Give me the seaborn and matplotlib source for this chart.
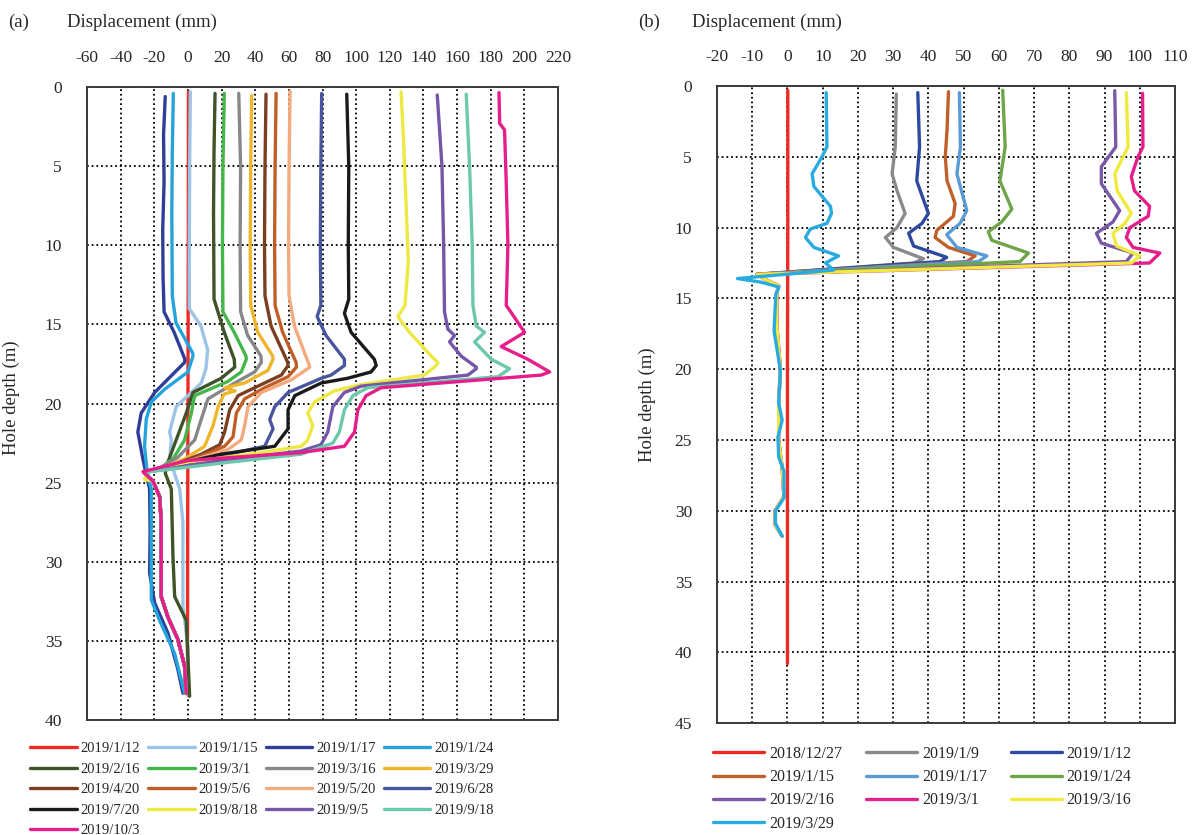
import matplotlib
matplotlib.use("Agg")
import matplotlib.pyplot as plt
import seaborn as sns

# ---------------- panel (a) data: displacement (mm) vs hole depth (m) ----------------
a_labels = ["2019/1/12", "2019/1/15", "2019/1/17", "2019/1/24", "2019/2/16", "2019/3/1",
            "2019/3/16", "2019/3/29", "2019/4/20", "2019/5/6", "2019/5/20", "2019/6/28",
            "2019/7/20", "2019/8/18", "2019/9/5", "2019/9/18", "2019/10/3"]
a_colors = ["#ee2a24", "#9dc3e6", "#2e3d98", "#24a4dd", "#3e5327", "#45b649",
            "#878787", "#efb52b", "#7b3f20", "#c15e26", "#f2aa7e", "#4a559f",
            "#1a1a1a", "#eee843", "#7556a8", "#6cc8ad", "#e61e8c"]

# shared lower branch below the shear zone (most series overlap here)
a_tail_d = [24.9, 25.9, 27.5, 32.2, 33.5, 34.9, 36.6, 38.3]
a_tail_x = [-20.8, -16.8, -15.9, -15.9, -11.9, -6.0, -2.0, -1.0]

a_d_0112 = [0.3, 10, 20, 30, 38.4]
a_x_0112 = [0.3, 0.2, 0.0, -0.2, -0.3]
a_d_0115 = [0.3, 5, 10, 14.0, 15.1, 16.6, 17.8, 18.7, 20.2, 21.8, 22.3, 23.5, 25.4, 27.5, 32.8, 35.4, 38.4]
a_x_0115 = [1.4, 1.0, 0.8, 0.8, 7.7, 11.7, 10.7, 7.9, -7.0, -10.9, -9.9, -10.9, -4.9, -3.0, -3.0, 0.0, 0.0]
a_d_0117 = [0.6, 3, 6, 9, 12, 14.2, 15.5, 17.2, 17.4, 19.3, 20.6, 21.8, 23.5, 24.4, 25.4, 28, 30.7, 32.6, 34.5, 36.8, 38.3]
a_x_0117 = [-13.5, -14.5, -14.2, -15.0, -14.8, -14.2, -8.2, -1.8, -2.0, -19.8, -27.8, -29.8, -26.8, -25.0, -22.8, -22.5, -22.8, -19.8, -11.9, -6.0, -3.0]
a_d_0124 = [0.4, 4, 8, 13.2, 14.9, 16.8, 17.0, 18.0, 19.1, 19.9, 21.0, 22.7, 24.4, 25.4, 32.4, 33.7, 35.8, 38.3]
a_x_0124 = [-8.7, -9.3, -9.6, -9.3, -7.1, 2.8, 3.0, 0.0, -13.9, -21.8, -24.8, -25.8, -24.2, -21.8, -21.8, -16.9, -7.9, -2.0]
a_d_0216 = [0.4, 4, 8, 13.4, 15.5, 17.2, 17.7, 18.4, 19.3, 20.6, 22.3, 23.7, 24.4, 25.4, 29.7, 32.2, 33.7, 38.5]
a_x_0216 = [16.1, 15.5, 15.2, 15.5, 21.6, 27.5, 27.8, 19.8, 3.0, -1.0, -7.0, -11.9, -13.5, -9.9, -8.9, -7.9, -1.0, 1.0]
a_d_0301 = [0.4, 5, 10, 14.2, 15.5, 17.0, 17.2, 18.0, 18.6, 19.5, 20.6, 22.3, 23.5, 24.1, 24.4]
a_x_0301 = [21.6, 20.8, 20.5, 20.8, 27.5, 34.5, 34.7, 31.7, 23.8, 4.0, 2.0, -2.0, -8.9, -16.8, -25.8]
a_d_0316 = [0.4, 5, 10, 14.2, 15.7, 17.0, 17.4, 18.0, 18.7, 19.7, 21.0, 22.3, 23.4, 24.1, 24.35]
a_x_0316 = [30.2, 31.3, 31.0, 31.3, 35.5, 43.4, 43.6, 39.7, 27.8, 11.9, 7.9, 4.0, -6.0, -16.8, -26.0]
a_d_0329 = [0.55, 5, 10, 13.8, 15.5, 17.0, 17.2, 17.9, 18.7, 19.0, 19.2, 19.4, 20.2, 21.4, 22.7, 23.5, 24.1, 24.35]
a_x_0329 = [37.9, 37.3, 37.0, 37.3, 41.5, 50.4, 50.6, 47.6, 33.7, 22.0, 28.0, 21.5, 17.9, 14.9, 9.9, -2.0, -15.9, -26.0]
a_d_0420 = [0.45, 5, 10, 13.2, 15.1, 17.4, 17.6, 18.2, 18.9, 19.5, 20.4, 21.8, 22.6, 23.2, 24.1, 24.35]
a_x_0420 = [46.4, 45.8, 45.5, 45.8, 49.4, 59.3, 59.5, 55.5, 41.6, 29.8, 24.8, 21.8, 18.9, 7.9, -13.9, -26.0]
a_d_0506 = [0.4, 5, 10, 13.8, 15.5, 17.4, 17.7, 18.3, 19.0, 19.7, 20.6, 22.1, 22.7, 23.4, 24.1, 24.35]
a_x_0506 = [52.4, 51.8, 51.5, 51.8, 56.3, 64.3, 64.5, 59.5, 45.6, 33.7, 28.8, 26.8, 21.8, 6.0, -13.9, -26.0]
a_d_0520 = [0.25, 5, 10, 13.2, 15.1, 17.6, 17.7, 18.5, 19.3, 20.2, 21.4, 22.3, 22.9, 23.6, 24.35]
a_x_0520 = [60.7, 60.1, 59.8, 60.1, 63.3, 72.2, 72.4, 61.5, 43.6, 35.7, 33.7, 31.7, 23.8, 2.0, -26.0]
a_d_0628 = [0.4, 5, 10, 13.8, 14.5, 15.7, 17.2, 17.6, 18.2, 18.4, 19.3, 20.2, 21.0, 21.6, 22.7, 23.3, 24.0, 24.35]
a_x_0628 = [79.5, 79.0, 78.7, 79.0, 76.8, 82.1, 93.0, 93.0, 85.1, 79.3, 59.5, 51.6, 48.6, 50.6, 45.6, 19.8, -9.9, -26.0]
a_d_0720 = [0.45, 5, 10, 13.4, 14.3, 15.5, 17.2, 17.6, 18.0, 18.4, 18.7, 19.5, 20.4, 21.6, 22.7, 23.2, 23.9, 24.35]
a_x_0720 = [94.4, 95.6, 95.3, 95.6, 93.0, 97.0, 110.8, 111.9, 108.9, 95.0, 79.3, 63.5, 59.5, 59.5, 51.6, 19.8, -9.9, -26.0]
a_d_0818 = [0.3, 3, 7, 11, 13.8, 14.5, 15.5, 17.0, 17.4, 17.6, 18.2, 18.8, 19.2, 19.9, 20.6, 21.4, 22.3, 22.7, 23.1, 23.7, 24.3, 24.8]
a_x_0818 = [126.7, 128.0, 129.5, 131.0, 129.0, 124.8, 131.7, 144.6, 148.6, 147.6, 140.6, 103.0, 87.0, 75.2, 71.2, 74.2, 71.2, 67.4, 43.6, 0.0, -23.8, -25.8]
a_d_0905 = [0.5, 5, 10, 14.2, 15.3, 15.7, 16.1, 17.0, 17.7, 17.8, 18.2, 18.9, 19.3, 20.2, 21.8, 22.6, 23.0, 23.6, 24.35]
a_x_0905 = [148.2, 151.0, 152.0, 152.5, 154.5, 158.5, 155.5, 162.4, 171.4, 171.4, 166.4, 103.0, 93.0, 86.1, 83.1, 79.1, 67.2, 20.0, -26.0]
a_d_0918 = [0.45, 5, 10, 13.8, 15.1, 15.5, 16.1, 17.2, 17.8, 18.3, 19.0, 19.5, 20.4, 21.8, 22.5, 23.2, 23.7, 24.35]
a_x_0918 = [165.4, 167.4, 169.0, 169.4, 171.4, 176.3, 170.4, 180.3, 191.2, 184.3, 107.0, 98.0, 93.0, 90.0, 86.1, 67.2, 25.0, -26.0]
a_d_1003 = [0.35, 2.3, 2.7, 6, 10, 13.8, 14.1, 15.5, 16.4, 17.2, 18.0, 18.2, 19.0, 19.5, 20.4, 21.8, 22.7, 23.1, 23.6, 24.3]
a_x_1003 = [184.9, 185.3, 188.2, 189.2, 190.2, 189.2, 191.2, 200.1, 186.2, 202.0, 215.0, 210.0, 114.8, 105.9, 101.0, 99.0, 93.0, 67.2, 0.0, -26.8]

# ---------------- panel (b) data ----------------
b_labels = ["2018/12/27", "2019/1/9", "2019/1/12", "2019/1/15", "2019/1/17",
            "2019/1/24", "2019/2/16", "2019/3/1", "2019/3/16", "2019/3/29"]
b_colors = ["#ee2a24", "#8a8a8a", "#2d4aa0", "#c0612b", "#5b9bd5",
            "#6ea647", "#7a58a8", "#e61e8c", "#efea3d", "#29abe2"]

b_tail_d = [13.3, 13.7, 14.1, 14.6, 17, 20, 22.5, 25, 27, 29, 30, 31, 31.8]
b_tail_x = [-8.6, -6.0, -2.5, -3.0, -3.0, -2.0, -2.5, -2.5, -1.5, -1.0, -3.5, -3.5, -1.5]

b_d_1227 = [0.3, 10, 20, 30, 40.8]
b_x_1227 = [0.1, 0.1, 0.0, 0.0, 0.0]
b_d_0109 = [0.57, 4.3, 6.2, 7.4, 9.0, 10.0, 10.7, 11.4, 12.2, 12.5, 13.3]
b_x_0109 = [30.9, 30.6, 29.7, 31.1, 33.4, 31.1, 27.8, 30.1, 38.6, 35.8, -8.6]
b_d_0112 = [0.47, 4.3, 6.7, 9.0, 9.7, 10.4, 11.3, 12.1, 12.4, 13.3]
b_x_0112 = [37.0, 37.5, 36.7, 40.0, 38.2, 34.4, 35.8, 45.2, 43.3, -8.6]
b_d_0115 = [0.4, 3.1, 5.0, 6.7, 8.3, 9.2, 10.2, 10.7, 11.4, 12.0, 12.4, 13.3]
b_x_0115 = [45.7, 45.3, 44.8, 45.3, 47.6, 47.1, 42.4, 41.9, 45.7, 53.3, 50.9, -8.6]
b_d_0117 = [0.47, 4.3, 6.2, 8.8, 9.7, 10.5, 11.4, 12.0, 12.4, 13.3]
b_x_0117 = [48.8, 49.1, 48.1, 50.9, 49.0, 45.2, 48.1, 56.6, 54.2, -8.6]
b_d_0124 = [0.3, 4.3, 6.7, 8.7, 9.6, 10.3, 10.9, 11.8, 12.4, 13.3]
b_x_0124 = [61.1, 61.8, 60.3, 63.7, 60.8, 57.0, 58.0, 68.4, 66.0, -8.6]
b_d_0216 = [0.33, 4.3, 5.7, 6.9, 8.8, 9.6, 10.4, 11.1, 11.8, 12.4]
b_x_0216 = [92.9, 93.2, 89.1, 89.1, 94.3, 92.4, 87.7, 89.1, 98.1, 96.2]
b_d_0301 = [0.52, 4.3, 5.0, 6.4, 7.4, 8.5, 9.2, 10.0, 10.7, 11.4, 11.8, 12.5]
b_x_0301 = [100.8, 100.9, 99.5, 97.6, 98.5, 102.8, 102.4, 97.2, 96.2, 98.1, 105.7, 102.8]
b_d_0316 = [0.47, 4.3, 6.2, 7.4, 9.0, 9.7, 10.4, 11.3, 12.0, 12.5]
b_x_0316 = [96.2, 96.7, 92.9, 93.6, 97.6, 95.8, 92.4, 93.4, 100.0, 97.6]
b_d_0329 = [0.47, 4.3, 5.0, 6.2, 7.1, 8.5, 9.0, 9.7, 10.1, 10.7, 11.4, 12.0, 12.5, 13.0, 13.6, 13.85,
            14.2, 14.7, 17.3, 20.1, 22.4, 23.6, 24.8, 26.2, 27.2, 29.1, 30.0, 30.9, 31.8]
b_x_0329 = [11.0, 11.2, 9.8, 7.0, 7.5, 12.2, 12.5, 11.2, 6.5, 5.1, 7.5, 14.5, 10.8, 13.1, -14.2, -7.6,
            -2.4, -3.3, -3.8, -2.0, -2.5, -1.5, -2.7, -2.5, -1.0, -1.0, -3.4, -3.4, -1.5]

a_series = [
    (a_x_0112, a_d_0112), (a_x_0115, a_d_0115), (a_x_0117, a_d_0117), (a_x_0124, a_d_0124),
    (a_x_0216, a_d_0216), (a_x_0301 + a_tail_x, a_d_0301 + a_tail_d),
    (a_x_0316 + a_tail_x, a_d_0316 + a_tail_d), (a_x_0329 + a_tail_x, a_d_0329 + a_tail_d),
    (a_x_0420 + a_tail_x, a_d_0420 + a_tail_d), (a_x_0506 + a_tail_x, a_d_0506 + a_tail_d),
    (a_x_0520 + a_tail_x, a_d_0520 + a_tail_d), (a_x_0628 + a_tail_x, a_d_0628 + a_tail_d),
    (a_x_0720 + a_tail_x, a_d_0720 + a_tail_d), (a_x_0818 + a_tail_x, a_d_0818 + a_tail_d),
    (a_x_0905 + a_tail_x, a_d_0905 + a_tail_d), (a_x_0918 + a_tail_x, a_d_0918 + a_tail_d),
    (a_x_1003 + a_tail_x, a_d_1003 + a_tail_d),
]
b_series = [
    (b_x_1227, b_d_1227), (b_x_0109, b_d_0109), (b_x_0112, b_d_0112), (b_x_0115, b_d_0115),
    (b_x_0117, b_d_0117), (b_x_0124, b_d_0124), (b_x_0216 + b_tail_x, b_d_0216 + b_tail_d),
    (b_x_0301 + b_tail_x, b_d_0301 + b_tail_d), (b_x_0316 + b_tail_x, b_d_0316 + b_tail_d),
    (b_x_0329, b_d_0329),
]

sns.set_style("white")
plt.rcParams["font.family"] = ["Liberation Serif", "DejaVu Serif"]
plt.rcParams["axes.unicode_minus"] = False

fig = plt.figure(figsize=(11.97, 8.35), dpi=100)
ax_a = fig.add_axes([0.0727, 0.1377, 0.3935, 0.758])
ax_b = fig.add_axes([0.599, 0.134, 0.3826, 0.763])


def draw_panel(ax, series, labels, colors, xlim, xticks, ylim, yticks, ncol, leg_pos, leg_kw):
    for (xs, ds), lab, col in zip(series, labels, colors):
        sns.lineplot(x=xs, y=ds, ax=ax, sort=False, estimator=None, orient="y",
                     color=col, linewidth=2.4, label=lab, legend=False,
                     solid_joinstyle="round", solid_capstyle="round")
    ax.set_xlim(*xlim)
    ax.set_ylim(ylim, 0)
    ax.set_xticks(xticks)
    ax.set_yticks(yticks)
    ax.xaxis.tick_top()
    ax.tick_params(axis="both", length=0, labelsize=12.5)
    ax.tick_params(axis="x", pad=15)
    ax.tick_params(axis="y", pad=18)
    ax.grid(True, color="black", linestyle=(0, (1, 1.6)), linewidth=1.3)
    for s in ax.spines.values():
        s.set_color("#3a3a3a")
        s.set_linewidth(1.4)
    ax.set_xlabel("")
    ax.set_ylabel("Hole depth (m)", fontsize=13.5)
    # legend filled row by row like the original
    handles, labs = ax.get_legend_handles_labels()
    order = sorted(range(len(labs)), key=lambda i: (i % ncol, i // ncol))
    ax.legend([handles[i] for i in order], [labs[i] for i in order], ncol=ncol,
              loc="upper left", bbox_to_anchor=leg_pos, bbox_transform=fig.transFigure,
              frameon=False, borderpad=0, borderaxespad=0, **leg_kw)


draw_panel(ax_a, a_series, a_labels, a_colors, (-60, 220), list(range(-60, 221, 20)),
           40, list(range(0, 41, 5)), 4, (30 / 1197, 1 - 742 / 835),
           dict(fontsize=10.5, handlelength=3.2, handletextpad=0.25,
                columnspacing=0.55, labelspacing=0.5))
draw_panel(ax_b, b_series, b_labels, b_colors, (-20, 110), list(range(-20, 111, 10)),
           45, list(range(0, 46, 5)), 3, (713 / 1197, 1 - 746 / 835),
           dict(fontsize=11.5, handlelength=3.2, handletextpad=0.3,
                columnspacing=1.5, labelspacing=0.45))

ax_a.yaxis.set_label_coords(-0.142, 0.51)
ax_b.yaxis.set_label_coords(-0.133, 0.5)

fig.text(8 / 1197, 1 - 22 / 835, "(a)", fontsize=13.5, va="center")
fig.text(67 / 1197, 1 - 22 / 835, "Displacement (mm)", fontsize=13.5, va="center")
fig.text(638 / 1197, 1 - 22 / 835, "(b)", fontsize=13.5, va="center")
fig.text(692 / 1197, 1 - 22 / 835, "Displacement (mm)", fontsize=13.5, va="center")

fig.savefig("out.png", dpi=100)
